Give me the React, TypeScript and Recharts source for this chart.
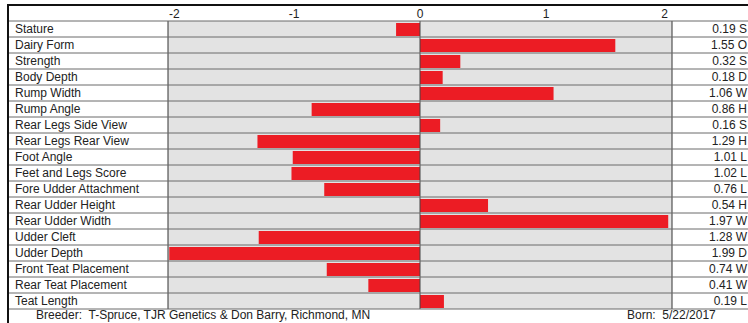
import { BarChart, Bar, XAxis, YAxis, CartesianGrid, ReferenceLine } from 'recharts';

const traits = [
  'Stature', 'Dairy Form', 'Strength', 'Body Depth', 'Rump Width', 'Rump Angle',
  'Rear Legs Side View', 'Rear Legs Rear View', 'Foot Angle', 'Feet and Legs Score',
  'Fore Udder Attachment', 'Rear Udder Height', 'Rear Udder Width', 'Udder Cleft',
  'Udder Depth', 'Front Teat Placement', 'Rear Teat Placement', 'Teat Length',
];

// signed scores as drawn by the bars
const scores = [
  -0.19, 1.55, 0.32, 0.18, 1.06, -0.86, 0.16, -1.29, -1.01,
  -1.02, -0.76, 0.54, 1.97, -1.28, -1.99, -0.74, -0.41, 0.19,
];

// letter shown after the absolute value in the right column
const codes = ['S', 'O', 'S', 'D', 'W', 'H', 'S', 'H', 'L', 'L', 'L', 'H', 'W', 'W', 'D', 'W', 'W', 'L'];

const xTicks = [-2, -1, 0, 1, 2];

const breeder = 'Breeder:  T-Spruce, TJR Genetics & Don Barry, Richmond, MN';
const born = 'Born:  5/22/2017';

const chartData = traits.map((trait, i) => ({
  trait,
  score: scores[i],
  label: `${Math.abs(scores[i]).toFixed(2)} ${codes[i]}`,
}));

const FONT = '"Liberation Sans", Arial, sans-serif';
const ROW_LINE = '#6a6a6a';

// top axis labels: end ticks hug the inside of the plot
const TopTick = ({ x, y, payload }: any) => {
  const v = payload.value;
  const anchor = v === -2 ? 'start' : v === 2 ? 'end' : 'middle';
  const dx = v === -2 ? 1 : v === 2 ? -4 : 0;
  return (
    <text x={x + dx} y={18} textAnchor={anchor} fontSize={12} fill="#222" fontFamily={FONT}>
      {v}
    </text>
  );
};

// trait name on the left, value on the right, and the row rule across the whole table
const TraitTick = ({ y, payload }: any) => {
  const i = traits.indexOf(payload.value);
  return (
    <g>
      {i === 0 && <line x1={9} x2={748} y1={y - 8} y2={y - 8} stroke={ROW_LINE} />}
      <line x1={9} x2={748} y1={y + 8} y2={y + 8} stroke={ROW_LINE} />
      <text x={15} y={y + 4} fontSize={12} fill="#222" fontFamily={FONT}>
        {payload.value}
      </text>
      <text x={747} y={y + 4} textAnchor="end" fontSize={12} fill="#222" fontFamily={FONT}>
        {chartData[i].label}
      </text>
    </g>
  );
};

export default function App() {
  return (
    <div style={{ position: 'absolute', left: 0, top: 0, width: 748, height: 323, background: '#fff', overflow: 'hidden' }}>
      <BarChart
        width={748}
        height={323}
        data={chartData}
        layout="vertical"
        margin={{ top: 7, right: 76, bottom: 14, left: 9 }}
      >
        <CartesianGrid horizontal={false} vertical={false} fill="#e3e3e3" />
        <XAxis
          type="number"
          orientation="top"
          domain={[-2, 2]}
          ticks={xTicks}
          height={14}
          axisLine={false}
          tickLine={false}
          tick={<TopTick />}
        />
        <YAxis
          type="category"
          dataKey="trait"
          width={159}
          axisLine={false}
          tickLine={false}
          interval={0}
          tick={<TraitTick />}
        />
        <ReferenceLine x={-2} stroke="#333" />
        <ReferenceLine x={0} stroke="#444" />
        <ReferenceLine x={2} stroke="#333" />
        <Bar dataKey="score" fill="#ec1c24" barSize={13} isAnimationActive={false} />
      </BarChart>
      <div style={{ position: 'absolute', left: 7, top: 4, width: 741, height: 2, background: '#111' }} />
      <div style={{ position: 'absolute', left: 7, top: 4, width: 2, height: 319, background: '#111' }} />
      <div style={{ position: 'absolute', left: 36, top: 308, fontSize: 12, fontFamily: FONT, color: '#222', whiteSpace: 'pre' }}>
        {breeder}
      </div>
      <div style={{ position: 'absolute', left: 627, top: 308, fontSize: 12, fontFamily: FONT, color: '#222', whiteSpace: 'pre' }}>
        {born}
      </div>
    </div>
  );
}
